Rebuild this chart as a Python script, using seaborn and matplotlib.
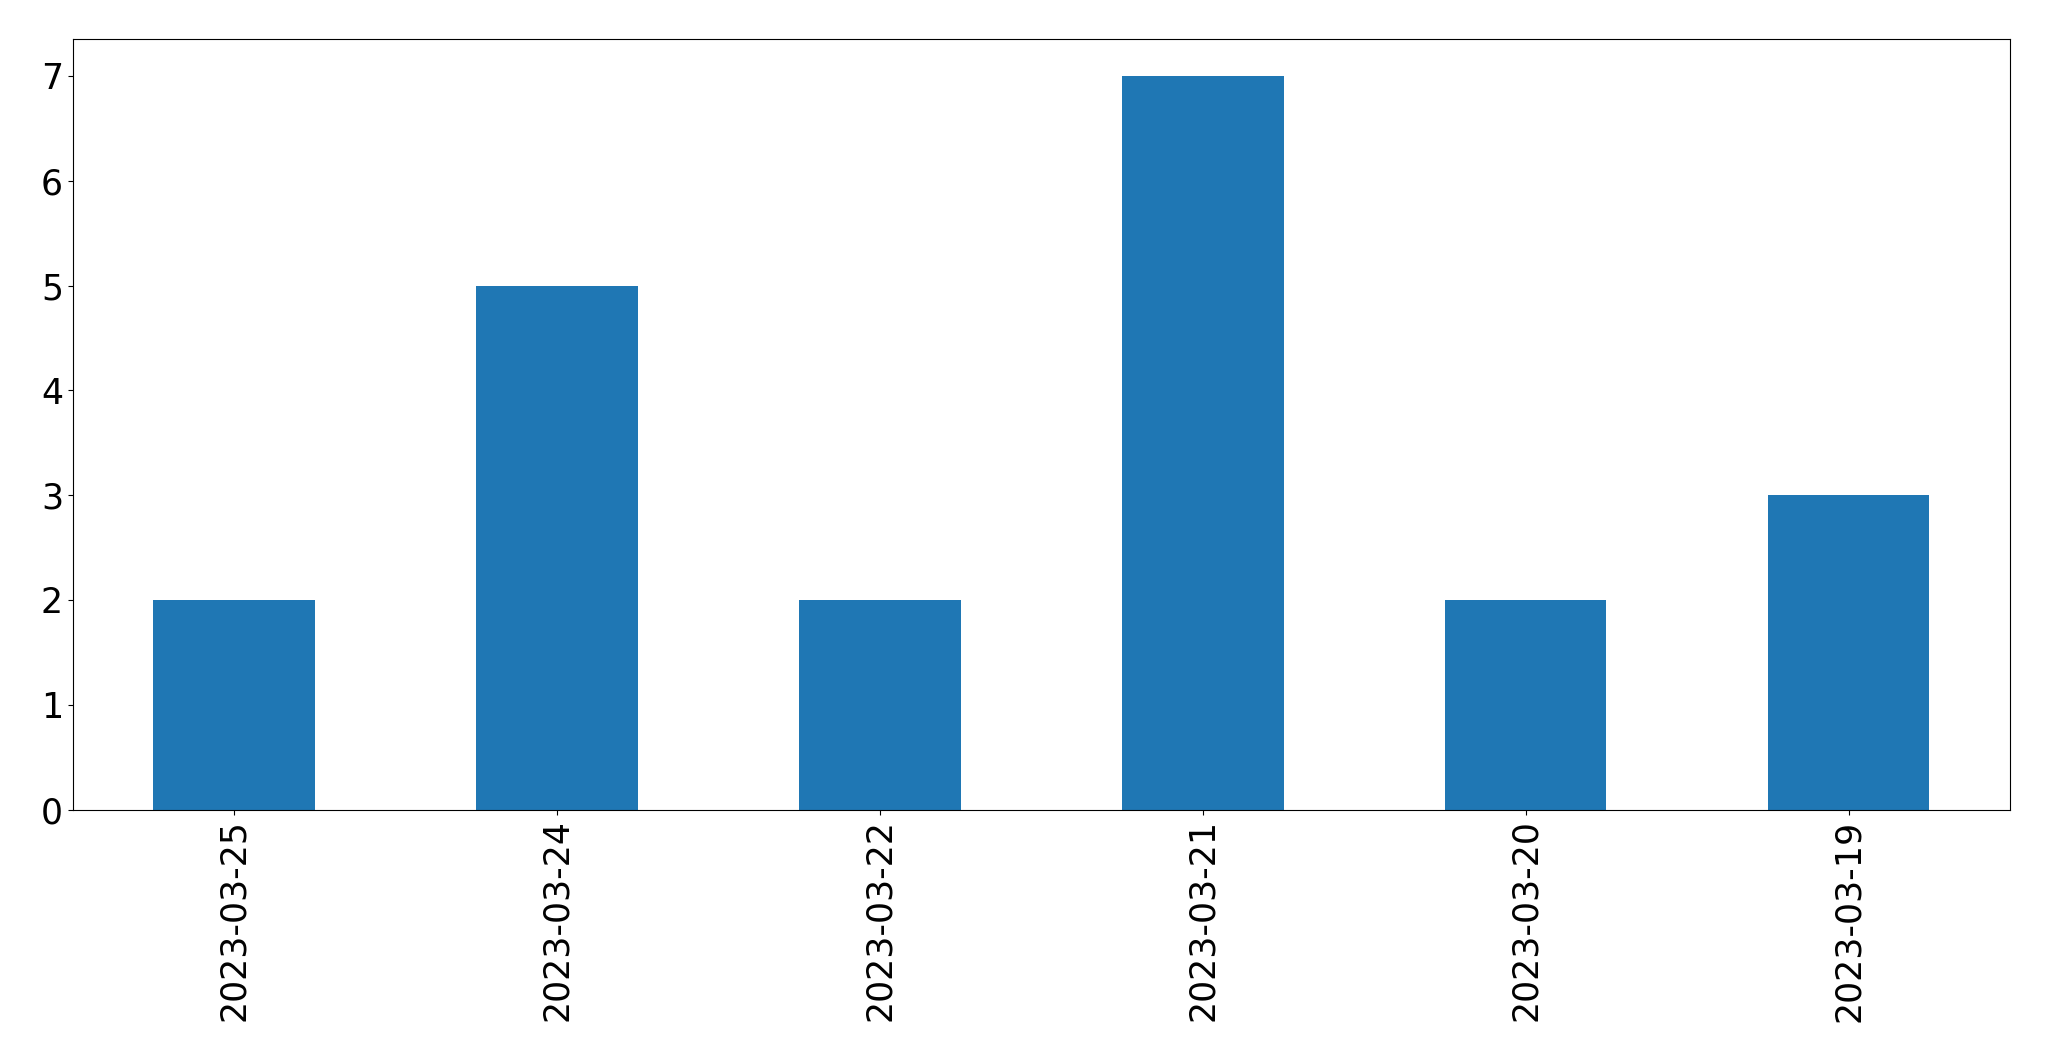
import matplotlib
matplotlib.use("Agg")
import matplotlib.pyplot as plt
import seaborn as sns
import pandas as pd

# values
dates = ["2023-03-25", "2023-03-24", "2023-03-22", "2023-03-21", "2023-03-20", "2023-03-19"]
counts = [2, 5, 2, 7, 2, 3]

df = pd.DataFrame({"date": dates, "count": counts})

fig = plt.figure(figsize=(20.49, 10.61), dpi=100)
ax = fig.add_axes([0.0355, 0.237, 0.9455, 0.726])

sns.barplot(data=df, x="date", y="count", order=dates, color="#1f77b4",
            saturation=1, width=0.5, ax=ax)

ax.set_xlabel("")
ax.set_ylabel("")
ax.tick_params(axis="x", labelrotation=90, labelsize=25)
ax.tick_params(axis="y", labelsize=25)
ax.set_xlim(-0.5, len(dates) - 0.5)

fig.savefig("out.png", dpi=100)
